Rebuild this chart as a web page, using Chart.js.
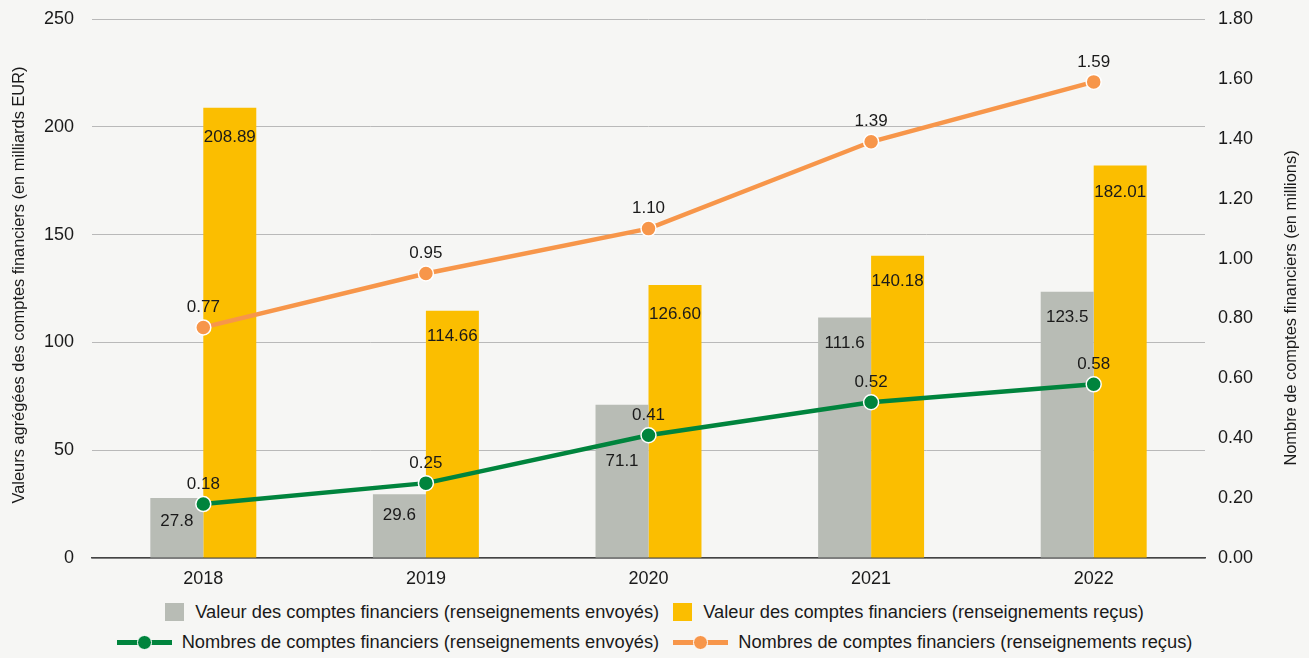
<!DOCTYPE html>
<html lang="fr">
<head>
<meta charset="utf-8">
<script src="https://cdn.jsdelivr.net/npm/chart.js@4.4.1/dist/chart.umd.min.js"></script>
<style>
  html, body { margin: 0; padding: 0; background: #f6f6f4; }
  body { width: 1309px; height: 658px; overflow: hidden; font-family: "Liberation Sans", Arial, sans-serif; }
  #wrap { position: relative; width: 1309px; height: 595px; }
  .legende { display: flex; flex-direction: column; align-items: center; color: #1a1a1a; font-size: 18.3px; margin-top: 2px; }
  .rang { display: flex; align-items: center; height: 30px; }
  .item { display: flex; align-items: center; margin: 0 7px; }
  .boite { width: 19px; height: 18px; margin-right: 11px; }
  .trait { position: relative; width: 55px; height: 5px; margin-right: 10px; }
  .trait span { position: absolute; left: 20px; top: -5px; width: 13px; height: 13px; border-radius: 50%; border: 1px solid #fff; }
</style>
</head>
<body>
<div id="wrap"><canvas id="graphique" width="1309" height="595"></canvas></div>
<div class="legende" id="legende"></div>
<script>
const annees = ["2018", "2019", "2020", "2021", "2022"];
const valeurEnvoyes = [27.8, 29.6, 71.1, 111.6, 123.5];
const valeurRecus = [208.89, 114.66, 126.60, 140.18, 182.01];
const nombreEnvoyes = [0.18, 0.25, 0.41, 0.52, 0.58];
const nombreRecus = [0.77, 0.95, 1.10, 1.39, 1.59];

const gris = "#b8bcb5";
const jaune = "#fbbe00";
const vert = "#00843d";
const orange = "#f7964a";
const police = "'Liberation Sans', Arial, sans-serif";

// etiquettes de valeurs dessinees a la main (pas de plugin datalabels)
const etiquettes = {
    id: "etiquettes",
    afterDatasetsDraw(chart) {
        const ctx = chart.ctx;
        ctx.save();
        ctx.font = "17px " + police;
        ctx.fillStyle = "#1a1a1a";
        ctx.textAlign = "center";
        ctx.textBaseline = "middle";
        chart.data.datasets.forEach((ds, i) => {
            const meta = chart.getDatasetMeta(i);
            meta.data.forEach((el, j) => {
                const txt = ds.data[j].toFixed(ds.decimales);
                if (ds.type === "line") {
                    ctx.fillText(txt, el.x, el.y - 20);
                } else {
                    const dec = ds.decalages ? ds.decalages[j] : 27;
                    ctx.fillText(txt, el.x, el.y + dec);
                }
            });
        });
        // titres des axes, tous deux lus de bas en haut
        ctx.font = "16.4px " + police;
        const titre = (txt, x, y) => {
            ctx.save();
            ctx.translate(x, y);
            ctx.rotate(-Math.PI / 2);
            ctx.fillText(txt, 0, 0);
            ctx.restore();
        };
        titre("Valeurs agrégées des comptes financiers (en milliards EUR)", 19, 285);
        titre("Nombre de comptes financiers (en millions)", 1291, 308);
        ctx.restore();
    },
};

const sansMarge = (s) => {
    s.paddingTop = 0;
    s.paddingBottom = 0;
    s.paddingLeft = 0;
    s.paddingRight = 0;
};

new Chart(document.getElementById("graphique"), {
    type: "bar",
    data: {
        labels: annees,
        datasets: [
            {
                type: "line",
                label: "Nombres de comptes financiers (renseignements envoyés)",
                data: nombreEnvoyes,
                yAxisID: "y1",
                borderColor: vert,
                backgroundColor: vert,
                borderWidth: 4.5,
                pointRadius: 7.5,
                pointBorderColor: "#fff",
                pointBorderWidth: 1.5,
                decimales: 2,
                order: 0,
            },
            {
                type: "line",
                label: "Nombres de comptes financiers (renseignements reçus)",
                data: nombreRecus,
                yAxisID: "y1",
                borderColor: orange,
                backgroundColor: orange,
                borderWidth: 4.5,
                pointRadius: 7.5,
                pointBorderColor: "#fff",
                pointBorderWidth: 1.5,
                decimales: 2,
                order: 0,
            },
            {
                label: "Valeur des comptes financiers (renseignements envoyés)",
                data: valeurEnvoyes,
                yAxisID: "y",
                backgroundColor: gris,
                categoryPercentage: 0.476,
                barPercentage: 1,
                decimales: 1,
                decalages: [23, 21, 57, 26, 26],
                order: 1,
            },
            {
                label: "Valeur des comptes financiers (renseignements reçus)",
                data: valeurRecus,
                yAxisID: "y",
                backgroundColor: jaune,
                categoryPercentage: 0.476,
                barPercentage: 1,
                decimales: 2,
                decalages: [30, 26, 29, 26, 27],
                order: 1,
            },
        ],
    },
    options: {
        responsive: false,
        animation: false,
        layout: { autoPadding: false, padding: { top: 19, left: 0, right: 0, bottom: 0 } },
        plugins: { legend: { display: false }, tooltip: { enabled: false } },
        scales: {
            x: {
                grid: { display: false, drawTicks: false },
                border: { color: "#444", width: 1.5 },
                ticks: { color: "#1a1a1a", font: { family: police, size: 18 }, padding: 10 },
                afterFit(s) { s.height = 37; sansMarge(s); },
            },
            y: {
                position: "left",
                min: 0,
                max: 250,
                ticks: { stepSize: 50, color: "#1a1a1a", font: { family: police, size: 18 }, padding: 18 },
                grid: { color: "#b9b9b9", lineWidth: 1, drawTicks: false },
                border: { display: false },
                afterFit(s) { s.width = 92; sansMarge(s); },
            },
            y1: {
                position: "right",
                min: 0,
                max: 1.8,
                ticks: {
                    stepSize: 0.2,
                    color: "#1a1a1a",
                    font: { family: police, size: 18 },
                    padding: 13,
                    callback: (v) => v.toFixed(2),
                },
                grid: { display: false, drawTicks: false },
                border: { display: false },
                afterFit(s) { s.width = 104; sansMarge(s); },
            },
        },
    },
    plugins: [etiquettes],
});

// legende en deux rangs, comme la source
const legende = document.getElementById("legende");
const rangs = [
    [["boite", gris, "Valeur des comptes financiers (renseignements envoyés)"],
     ["boite", jaune, "Valeur des comptes financiers (renseignements reçus)"]],
    [["trait", vert, "Nombres de comptes financiers (renseignements envoyés)"],
     ["trait", orange, "Nombres de comptes financiers (renseignements reçus)"]],
];
rangs.forEach((r) => {
    const div = document.createElement("div");
    div.className = "rang";
    r.forEach(([genre, coul, txt]) => {
        const it = document.createElement("div");
        it.className = "item";
        const m = document.createElement("div");
        m.className = genre;
        m.style.background = coul;
        if (genre === "trait") {
            const p = document.createElement("span");
            p.style.background = coul;
            m.appendChild(p);
        }
        it.appendChild(m);
        const t = document.createElement("span");
        t.textContent = txt;
        it.appendChild(t);
        div.appendChild(it);
    });
    legende.appendChild(div);
});
</script>
</body>
</html>
